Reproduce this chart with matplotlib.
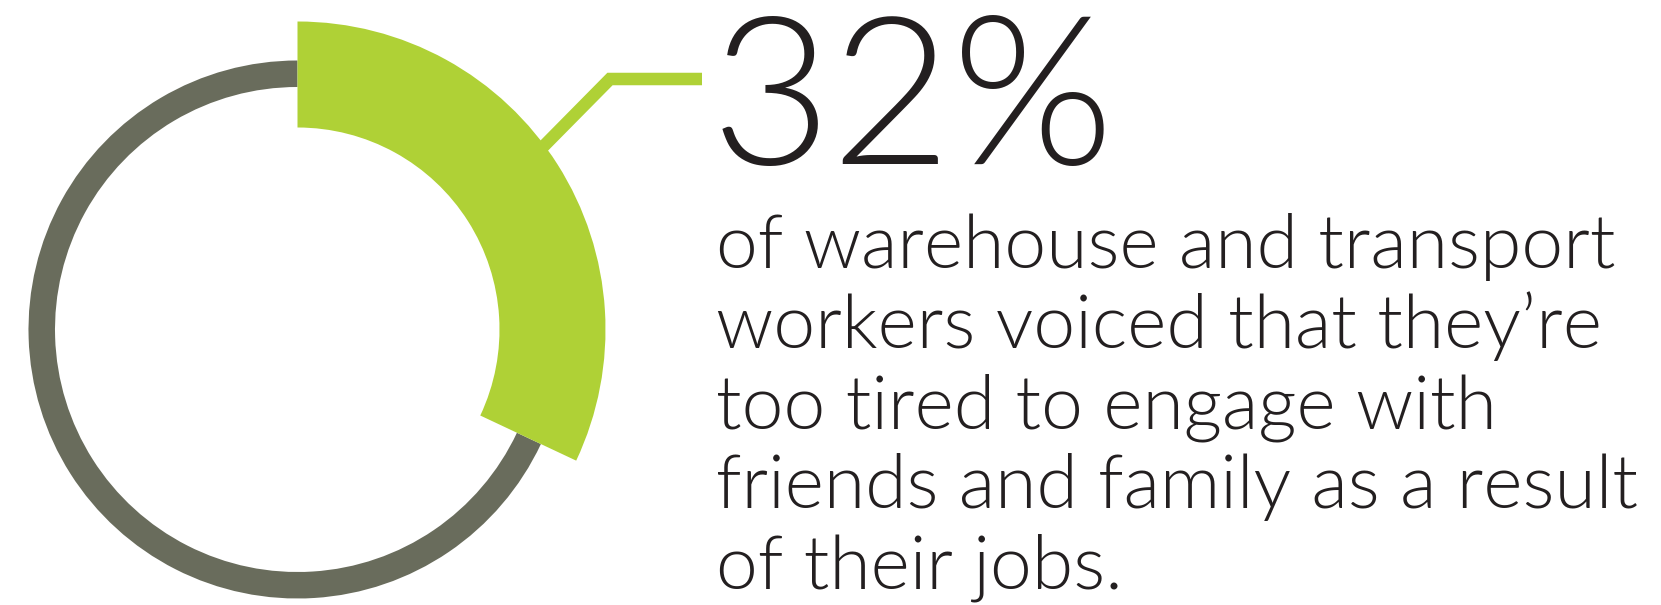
import matplotlib

matplotlib.use("Agg")

import matplotlib.pyplot as plt
from matplotlib.patches import Wedge

SHARE = 32
HEADLINE = f"{SHARE}%"
BODY_LINES = [
    "of warehouse and transport",
    "workers voiced that they’re",
    "too tired to engage with",
    "friends and family as a result",
    "of their jobs.",
]

GREEN = "#AFD136"
GRAY = "#696C5C"
INK = "#231F20"

WIDTH, HEIGHT = 1661, 605
CENTER = (297.5, 329.5)

plt.rcParams["font.family"] = ["Lato", "DejaVu Sans"]

fig = plt.figure(figsize=(WIDTH / 100, HEIGHT / 100), dpi=100)
ax = fig.add_axes([0, 0, 1, 1])
ax.set_xlim(0, WIDTH)
ax.set_ylim(HEIGHT, 0)
ax.set_aspect("equal")
ax.axis("off")

# y axis is flipped, so clockwise on screen means increasing angle here
start = -90
end = start + 360 * SHARE / 100

# thin gray ring for the rest of the circle
ax.add_patch(Wedge(CENTER, 269, end, start + 360, width=26.5,
                   facecolor=GRAY, edgecolor="none"))
# thick green segment for the share
ax.add_patch(Wedge(CENTER, 308, start, end, width=106,
                   facecolor=GREEN, edgecolor="none"))

# leader line from the segment to the headline
ax.plot([530, 610, 702], [160, 79, 79], color=GREEN, linewidth=9,
        solid_joinstyle="miter", solid_capstyle="butt")

ax.text(711, 164, HEADLINE, fontsize=150, color=INK, fontweight=300,
        ha="left", va="baseline")

for i, line in enumerate(BODY_LINES):
    ax.text(716, 268 + i * 80, line, fontsize=54, color=INK,
            fontweight=300, ha="left", va="baseline")

fig.savefig("out.png", dpi=100)
